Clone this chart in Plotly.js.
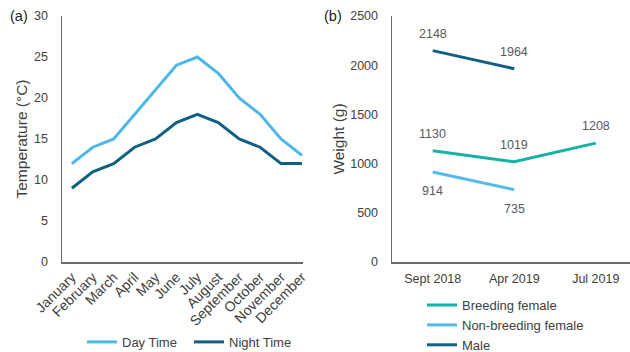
<!DOCTYPE html>
<html>
<head>
<meta charset="utf-8">
<script src="https://cdn.plot.ly/plotly-3.0.1.min.js"></script>
<style>html,body{margin:0;padding:0;background:#fff;}#chart{width:630px;height:352px;}</style>
</head>
<body>
<div id="chart"></div>
<script>
// Panel (a): monthly temperatures
var months = ["January","February","March","April","May","June","July","August","September","October","November","December"];
var dayTime = [12, 14, 15, 18, 21, 24, 25, 23, 20, 18, 15, 13];
var nightTime = [9, 11, 12, 14, 15, 17, 18, 17, 15, 14, 12, 12];

// Panel (b): weights
var dates = ["Sept 2018", "Apr 2019", "Jul 2019"];
var breedingFemale = [1130, 1019, 1208];
var nonBreedingFemale = [914, 735, null];
var male = [2148, 1964, null];

var FONT = "Liberation Sans, Arial, sans-serif";
var TXT = "#404040";
var C_DAY = "#4DB8E8", C_NIGHT = "#116083", C_BREED = "#16B2A4", C_NONB = "#55B9EA", C_MALE = "#125F83";

var traces = [
  {x: months, y: dayTime, name: "Day Time", type: "scatter", mode: "lines", line: {color: C_DAY, width: 3}, xaxis: "x", yaxis: "y", legend: "legend"},
  {x: months, y: nightTime, name: "Night Time", type: "scatter", mode: "lines", line: {color: C_NIGHT, width: 3}, xaxis: "x", yaxis: "y", legend: "legend"},
  {x: dates, y: breedingFemale, name: "Breeding female", type: "scatter", mode: "lines", line: {color: C_BREED, width: 3}, xaxis: "x2", yaxis: "y2", legend: "legend2"},
  {x: dates, y: nonBreedingFemale, name: "Non-breeding female", type: "scatter", mode: "lines", line: {color: C_NONB, width: 3}, xaxis: "x2", yaxis: "y2", legend: "legend2"},
  {x: dates, y: male, name: "Male", type: "scatter", mode: "lines", line: {color: C_MALE, width: 3}, xaxis: "x2", yaxis: "y2", legend: "legend2"}
];

var annotations = [];
function addLabels(vals, shift) {
  vals.forEach(function (v, i) {
    if (v === null) return;
    annotations.push({x: dates[i], y: v, xref: "x2", yref: "y2", text: String(v), showarrow: false,
      yshift: shift, font: {family: FONT, size: 12.5, color: "#595959"}});
  });
}
addLabels(male, 17);
addLabels(breedingFemale, 17);
addLabels(nonBreedingFemale, -19);
annotations.push({xref: "paper", yref: "paper", x: 8 / 630, y: 1, yanchor: "middle", xanchor: "left", text: "(a)", showarrow: false, font: {family: FONT, size: 14.5, color: "#222"}});
annotations.push({xref: "paper", yref: "paper", x: 322 / 630, y: 1, yanchor: "middle", xanchor: "left", text: "(b)", showarrow: false, font: {family: FONT, size: 14.5, color: "#222"}});

var axisLine = {showline: true, linecolor: "#6b6b6b", linewidth: 1.5, showgrid: false, zeroline: false, ticks: "", tickfont: {family: FONT, size: 12.5, color: TXT}};

var layout = {
  width: 630, height: 352,
  margin: {l: 0, r: 0, t: 16, b: 90, autoexpand: false},
  paper_bgcolor: "#fff", plot_bgcolor: "#fff",
  font: {family: FONT, color: TXT},
  showlegend: true,
  xaxis: Object.assign({}, axisLine, {domain: [62 / 630, 303 / 630], type: "category", range: [-0.47, 11.05], tickangle: -45, anchor: "y",
    tickfont: {family: FONT, size: 14, color: TXT}, ticklabelstandoff: 0}),
  yaxis: Object.assign({}, axisLine, {domain: [0, 1], range: [0, 30], dtick: 5, anchor: "x", ticklabelstandoff: 10,
    title: {text: "Temperature (°C)", font: {family: FONT, size: 15.5, color: TXT}, standoff: 2}}),
  xaxis2: Object.assign({}, axisLine, {domain: [392 / 630, 1], type: "category", range: [-0.5, 2.42], anchor: "y2", ticklabelstandoff: 4}),
  yaxis2: Object.assign({}, axisLine, {domain: [0, 1], range: [0, 2500], dtick: 500, anchor: "x2", ticklabelstandoff: 10,
    title: {text: "Weight (g)", font: {family: FONT, size: 15.5, color: TXT}, standoff: 2}}),
  legend: {orientation: "h", x: 82 / 630, xanchor: "left", y: -0.325, yanchor: "middle", entrywidth: 62, font: {family: FONT, size: 13, color: TXT}, bgcolor: "rgba(0,0,0,0)"},
  legend2: {orientation: "v", x: 422 / 630, xanchor: "left", y: -0.114, yanchor: "top", font: {family: FONT, size: 13, color: TXT}, bgcolor: "rgba(0,0,0,0)", tracegroupgap: 0},
  annotations: annotations
};

Plotly.newPlot("chart", traces, layout, {staticPlot: true, displayModeBar: false});
</script>
</body>
</html>
